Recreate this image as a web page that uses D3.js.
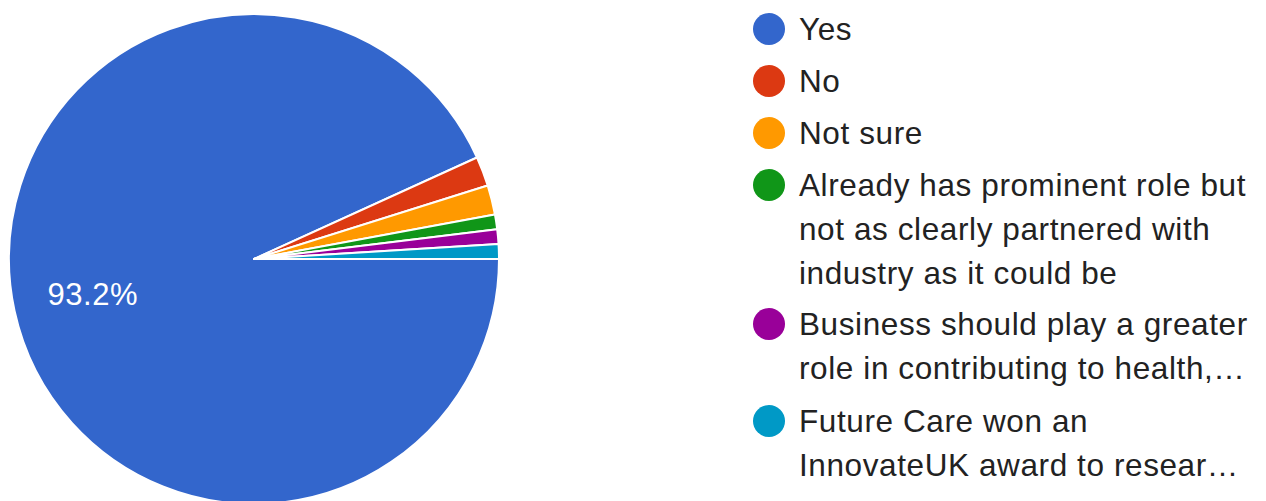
<!DOCTYPE html>
<html><head><meta charset="utf-8">
<script src="https://cdn.jsdelivr.net/npm/d3@7"></script>
<style>html,body{margin:0;padding:0;background:#fff;overflow:hidden}</style>
</head><body>
<svg id="c" width="1266" height="501"></svg>
<script>
const categories = ["Yes","No","Not sure","Already has prominent role but not as clearly partnered with industry as it could be","Business should play a greater role in contributing to health,…","Future Care won an InnovateUK award to resear…"];
const counts = [96, 2, 2, 1, 1, 1];
const colors = ["#3366cc","#dc3912","#ff9900","#109618","#990099","#0099c6"];
const legendLines = [["Yes"],["No"],["Not sure"],["Already has prominent role but","not as clearly partnered with","industry as it could be"],["Business should play a greater","role in contributing to health,…"],["Future Care won an","InnovateUK award to resear…"]];

const svg = d3.select("#c");
const font = "Arial, 'Liberation Sans', sans-serif";
const cx = 254, cy = 259, r = 245;
const total = d3.sum(counts);
const pie = d3.pie().sort(null).startAngle(Math.PI/2).endAngle(Math.PI/2 + 2*Math.PI);
const arcs = pie(counts);
const arc = d3.arc().innerRadius(0).outerRadius(r);
const g = svg.append("g").attr("transform",`translate(${cx},${cy})`);
g.selectAll("path").data(arcs).join("path")
  .attr("d", arc).attr("fill",(d,i)=>colors[i])
  .attr("stroke","#fff").attr("stroke-width",2).attr("stroke-linejoin","round");
const labelArc = d3.arc().innerRadius(165).outerRadius(165);
arcs.forEach((d,i)=>{
  const p = d.value/total;
  if (p < 0.05) return;
  const [x,y] = labelArc.centroid(d);
  g.append("text").attr("x",x).attr("y",y).attr("dy","0.36em")
    .attr("text-anchor","middle").attr("fill","#fff")
    .style("font-family",font).style("font-size","31px").style("letter-spacing","0.5px")
    .text(d3.format(".1%")(p));
});

const lg = svg.append("g");
const circleY = [29, 81, 133, 185, 324, 421];
legendLines.forEach((lines,i)=>{
  lg.append("circle").attr("cx",769).attr("cy",circleY[i]).attr("r",16).attr("fill",colors[i]);
  lines.forEach((t,j)=>{
    lg.append("text").attr("x",799).attr("y",circleY[i] + j*44).attr("dy","0.36em")
      .attr("fill","#222").style("font-family",font).style("font-size","31.5px")
      .style("letter-spacing","0.6px").text(t);
  });
});
</script>
</body></html>
